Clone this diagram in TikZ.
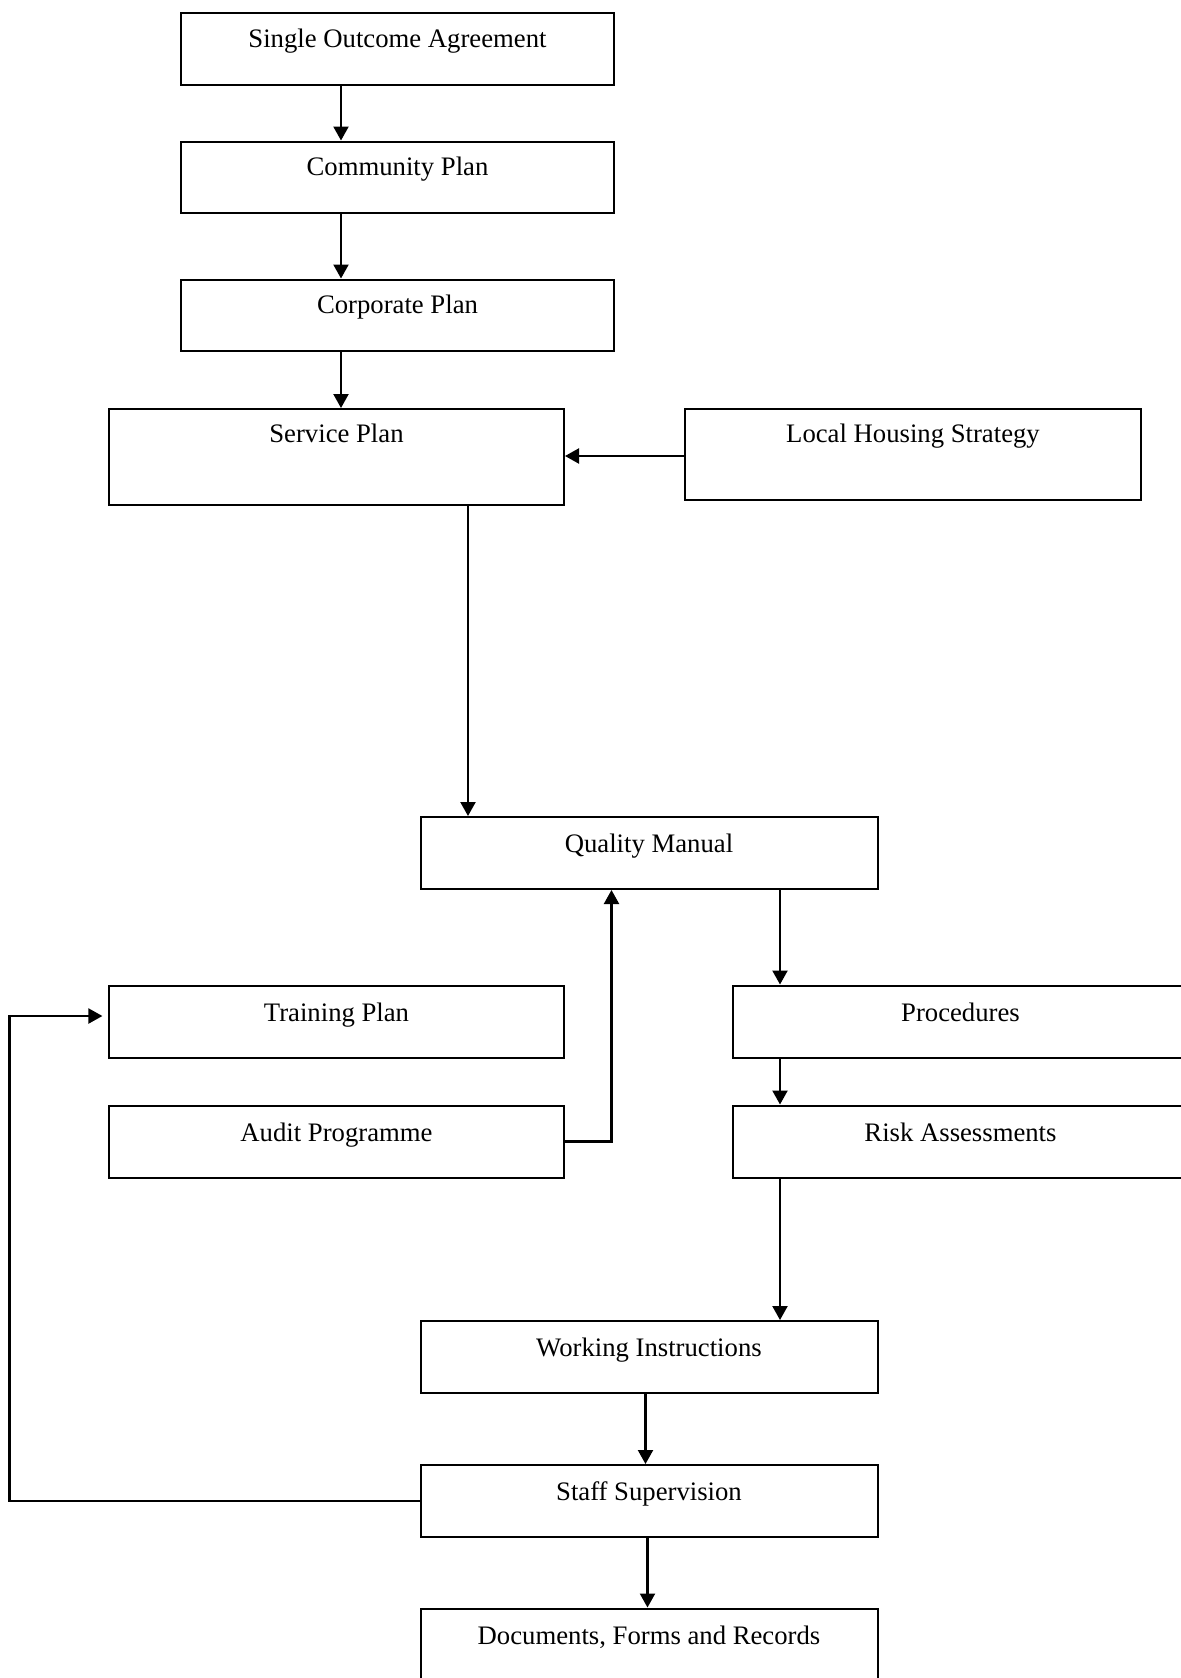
\documentclass[tikz,border=0pt]{standalone}
\usepackage{fontspec}
\setmainfont{Liberation Serif}
\usetikzlibrary{arrows.meta}
\tikzset{
  box/.style={draw, line width=1pt, rectangle, inner sep=0pt, anchor=north west,
    font=\fontsize{13.35pt}{16pt}\selectfont,
    minimum height=36pt, text height=17.75pt, text depth=18.25pt},
  topbox/.style={minimum width=216.5pt, text height=17.15pt, text depth=18.6pt, minimum height=35.75pt},
  wide/.style={minimum width=227.5pt},
  mid/.style={minimum width=228.5pt},
  arr/.style={line width=1.1pt, -{Triangle[length=7pt,width=7.5pt]}}
}
\begin{document}
\begin{tikzpicture}[x=0.5pt,y=-0.5pt]
\path[use as bounding box, clip] (0,0) rectangle (1181,1678);
% boxes
\node[box, topbox] (soa) at (180,12) {Single Outcome Agreement};
\node[box, topbox] (cp) at (180,140.5) {Community Plan};
\node[box, topbox] (corp) at (180,278.5) {Corporate Plan};
\node[box, wide, minimum height=48pt, text height=16.75pt, text depth=31.25pt] (sp) at (108,408) {Service Plan};
\node[box, minimum width=228pt, minimum height=45.5pt, text height=16.75pt, text depth=28.75pt] (lhs) at (684,408) {Local Housing Strategy};
\node[box, mid] (qm) at (419.5,816) {Quality Manual};
\node[box, wide] (tp) at (108,984.5) {Training Plan};
\node[box, wide] (ap) at (108,1104.5) {Audit Programme};
\node[box, wide] (proc) at (732,984.5) {Procedures};
\node[box, wide] (ra) at (732,1104.5) {Risk Assessments};
\node[box, mid] (wi) at (419.5,1320) {Working Instructions};
\node[box, mid] (ss) at (419.5,1464) {Staff Supervision};
\node[box, mid] (docs) at (419.5,1607.5) {Documents, Forms and Records};
% helper coordinates
\coordinate (xa) at (341,0);
\coordinate (xb) at (468,0);
\coordinate (xc) at (780,0);
\coordinate (xd) at (645.5,0);
\coordinate (xe) at (647.5,0);
\coordinate (xf) at (611.5,0);
\coordinate (xg) at (9.5,0);
\coordinate (ylhs) at (0,456);
\coordinate (ytp) at (0,1016);
% connectors
\draw[arr] (soa.south -| xa) -- (cp.north -| xa);
\draw[arr] (cp.south -| xa) -- (corp.north -| xa);
\draw[arr] (corp.south -| xa) -- (sp.north -| xa);
\draw[arr] (lhs.west |- ylhs) -- (sp.east |- ylhs);
\draw[arr] (sp.south -| xb) -- (qm.north -| xb);
\draw[arr] (qm.south -| xc) -- (proc.north -| xc);
\draw[arr] (proc.south -| xc) -- (ra.north -| xc);
\draw[arr] (ra.south -| xc) -- (wi.north -| xc);
\draw[arr] (wi.south -| xd) -- (ss.north -| xd);
\draw[arr] (ss.south -| xe) -- (docs.north -| xe);
\draw[arr] (ap.east) -| (qm.south -| xf);
\draw[arr] (ss.west) -- (ss.west -| xg) -- (xg |- ytp) -- ([xshift=-2.8pt]tp.west |- ytp);
\end{tikzpicture}
\end{document}
